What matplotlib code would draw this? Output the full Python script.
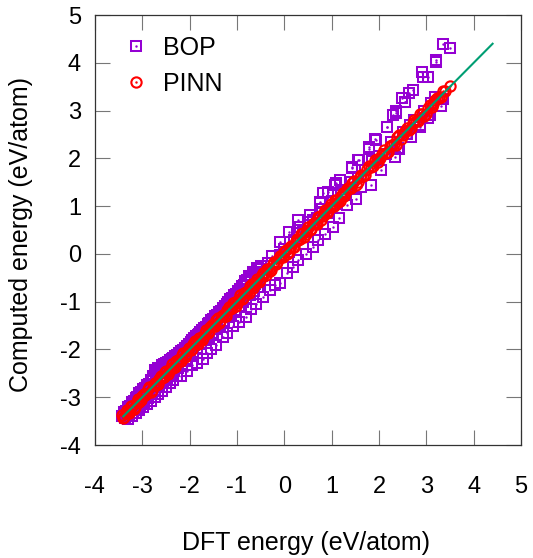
import matplotlib
matplotlib.use("Agg")
import matplotlib.pyplot as plt
from matplotlib.legend_handler import HandlerTuple

plt.rcParams['font.family'] = ['Liberation Sans', 'DejaVu Sans']
plt.rcParams['axes.unicode_minus'] = False

# BOP: dense band near the diagonal at low energies
bop_band_upper = [
    (-3.38, -3.30), (-3.30, -3.20), (-3.22, -3.10), (-3.14, -3.01), (-3.06, -2.92),
    (-2.98, -2.83), (-2.90, -2.75), (-2.82, -2.64), (-2.74, -2.44), (-2.66, -2.38),
    (-2.58, -2.33), (-2.50, -2.28), (-2.42, -2.22), (-2.34, -2.17), (-2.26, -2.11),
    (-2.18, -2.04), (-2.10, -1.96), (-2.02, -1.88), (-1.94, -1.80), (-1.86, -1.72),
    (-1.78, -1.63), (-1.70, -1.55), (-1.62, -1.47), (-1.54, -1.38), (-1.46, -1.30),
    (-1.38, -1.21), (-1.30, -1.13), (-1.22, -1.04), (-1.14, -0.95), (-1.06, -0.86),
    (-0.98, -0.77), (-0.90, -0.67), (-0.82, -0.57), (-0.74, -0.47), (-0.66, -0.37),
    (-0.58, -0.30), (-0.50, -0.26),
    (-3.34, -3.28), (-3.26, -3.18), (-3.18, -3.08), (-3.10, -2.99), (-3.02, -2.90),
    (-2.94, -2.81), (-2.86, -2.72), (-2.78, -2.56), (-2.70, -2.46), (-2.62, -2.38),
    (-2.54, -2.31), (-2.46, -2.26), (-2.38, -2.20), (-2.30, -2.14), (-2.22, -2.08),
    (-2.14, -2.01), (-2.06, -1.93), (-1.98, -1.85), (-1.90, -1.77), (-1.82, -1.69),
    (-1.74, -1.60), (-1.66, -1.52), (-1.58, -1.44), (-1.50, -1.36), (-1.42, -1.27),
    (-1.34, -1.19), (-1.26, -1.10), (-1.18, -1.01), (-1.10, -0.92), (-1.02, -0.83),
    (-0.94, -0.74), (-0.86, -0.65), (-0.78, -0.55), (-0.70, -0.46), (-0.62, -0.38),
    (-0.54, -0.32),
]
bop_band_mid = [
    (-3.42, -3.40), (-3.34, -3.35), (-3.26, -3.24), (-3.18, -3.19), (-3.10, -3.08),
    (-3.02, -3.03), (-2.94, -2.92), (-2.86, -2.87), (-2.78, -2.75), (-2.70, -2.71),
    (-2.62, -2.59), (-2.54, -2.55), (-2.46, -2.43), (-2.38, -2.39), (-2.30, -2.27),
    (-2.22, -2.23), (-2.14, -2.11), (-2.06, -2.07), (-1.98, -1.95), (-1.90, -1.91),
    (-1.82, -1.79), (-1.74, -1.75), (-1.66, -1.63), (-1.58, -1.59), (-1.50, -1.47),
    (-1.42, -1.43), (-1.34, -1.31), (-1.26, -1.27), (-1.18, -1.15), (-1.10, -1.11),
    (-1.02, -0.99), (-0.94, -0.95), (-0.86, -0.83), (-0.78, -0.79), (-0.70, -0.67),
    (-0.62, -0.63), (-0.54, -0.51), (-0.46, -0.47),
    (-3.00, -2.88), (-2.90, -2.78), (-2.80, -2.66), (-2.70, -2.55), (-2.60, -2.46),
    (-2.50, -2.37), (-2.40, -2.27), (-2.30, -2.18), (-2.20, -2.08), (-2.10, -1.98),
    (-2.00, -1.88), (-1.90, -1.78), (-1.80, -1.68), (-1.70, -1.58), (-1.60, -1.48),
    (-1.50, -1.38), (-1.40, -1.28), (-1.30, -1.18), (-1.20, -1.07), (-1.10, -0.97),
    (-1.00, -0.86), (-0.90, -0.76), (-0.80, -0.65), (-0.70, -0.55), (-0.60, -0.44),
]
bop_band_lower = [
    (-3.36, -3.44), (-3.28, -3.38), (-3.20, -3.32), (-3.12, -3.25), (-3.04, -3.17),
    (-2.96, -3.10), (-2.88, -3.02), (-2.80, -2.94), (-2.72, -2.86), (-2.64, -2.78),
    (-2.56, -2.70), (-2.48, -2.62), (-2.40, -2.54), (-2.32, -2.46), (-2.24, -2.38),
    (-2.16, -2.30), (-2.08, -2.21), (-2.00, -2.13), (-1.92, -2.05), (-1.84, -1.97),
    (-1.76, -1.89), (-1.68, -1.81), (-1.60, -1.73), (-1.52, -1.65), (-1.44, -1.57),
    (-1.36, -1.49), (-1.28, -1.41), (-1.20, -1.33), (-1.12, -1.25), (-1.04, -1.17),
    (-0.96, -1.09), (-0.88, -1.01), (-0.80, -0.93), (-0.72, -0.85), (-0.64, -0.77),
    (-0.56, -0.69),
    (-3.30, -3.45), (-3.22, -3.39), (-3.14, -3.33), (-3.06, -3.27), (-2.98, -3.21),
    (-2.90, -3.14), (-2.82, -3.07), (-2.74, -3.00), (-2.66, -2.93), (-2.58, -2.86),
    (-2.50, -2.79), (-2.42, -2.71), (-2.34, -2.63), (-2.26, -2.55),
]
# BOP: scattered points below the diagonal
bop_below = [
    (-2.18, -2.55), (-2.05, -2.45), (-1.95, -2.33), (-1.85, -2.28), (-1.72, -2.20),
    (-1.64, -2.07), (-1.55, -2.00), (-1.45, -1.90), (-1.30, -1.73), (-1.20, -1.65),
    (-1.08, -1.50), (-0.95, -1.42), (-0.80, -1.31), (-0.70, -1.15), (-0.60, -1.05),
    (-0.45, -0.90), (-0.30, -0.75), (-0.20, -0.65), (-0.09, -0.61), (0.05, -0.40),
    (0.18, -0.27), (0.30, -0.12), (0.45, 0.00), (0.61, 0.15), (0.72, 0.30),
    (0.85, 0.42), (1.03, 0.57), (1.15, 0.75), (1.33, 1.02), (1.51, 1.16),
    (1.62, 1.40), (1.83, 1.44), (2.04, 1.76), (2.33, 2.03), (2.43, 2.20),
    (2.67, 2.45), (2.86, 2.69), (3.07, 2.90),
]
# BOP: points close to the diagonal at higher energies
bop_near = [
    (-0.35, -0.20), (-0.25, -0.05), (-0.10, -0.02), (0.00, 0.10), (0.10, 0.05),
    (0.20, 0.30), (0.26, 0.43), (0.33, 0.57), (0.40, 0.45), (0.51, 0.67),
    (0.60, 0.70), (0.70, 0.75), (0.80, 0.95), (0.90, 0.85), (1.00, 1.10),
    (1.10, 1.05), (1.20, 1.30), (1.30, 1.25), (1.40, 1.50), (1.55, 1.60),
    (1.70, 1.75), (1.85, 1.95), (2.00, 2.05), (2.15, 2.10), (2.25, 2.35),
    (2.41, 2.21), (2.50, 2.55), (2.60, 2.50), (2.66, 2.70), (2.75, 2.80),
    (2.87, 2.66), (2.95, 3.00), (3.04, 2.84), (3.10, 3.15), (3.18, 3.29),
    (3.30, 3.10), (3.36, 3.24),
]
# BOP: points well above the diagonal
bop_above = [
    (-0.09, 0.26), (0.10, 0.45), (0.30, 0.70), (0.54, 0.81), (0.75, 1.07),
    (0.76, 1.09), (0.82, 1.27), (0.93, 1.30), (1.08, 1.44), (1.10, 1.48),
    (1.18, 1.54), (1.42, 1.83), (1.44, 1.79), (1.56, 1.97), (1.58, 1.96),
    (1.78, 2.24), (1.80, 2.20), (1.92, 2.40), (1.94, 2.39), (2.16, 2.66),
    (2.17, 2.66), (2.29, 2.90), (2.35, 3.00), (2.37, 2.94), (2.48, 3.26),
    (2.55, 3.19), (2.56, 3.19), (2.64, 3.36), (2.71, 3.44), (2.91, 3.80),
    (2.92, 3.70), (3.03, 3.71), (3.20, 4.05), (3.21, 4.02), (3.36, 4.40),
    (3.50, 4.32),
]

pinn_x = [
    -3.42, -3.38, -3.33, -3.27, -3.21, -3.15, -3.09, -3.03, -2.97, -2.91,
    -2.85, -2.79, -2.73, -2.67, -2.61, -2.55, -2.49, -2.43, -2.37, -2.31,
    -2.25, -2.19, -2.13, -2.07, -2.01, -1.95, -1.89, -1.83, -1.77, -1.71,
    -1.65, -1.59, -1.53, -1.47, -1.41, -1.35, -1.29, -1.23, -1.17, -1.11,
    -1.05, -0.99, -0.93, -0.87, -0.81, -0.75, -0.69, -0.63, -0.57, -0.51,
    -0.45, -0.39, -0.33, -0.27, -0.21, -0.15, -0.09, -0.03, 0.03, 0.09,
    0.15, 0.21, 0.27, 0.33, 0.39, 0.45, 0.51, 0.57, 0.63, 0.69,
    0.75, 0.81, 0.87, 0.93, 0.99, 1.05, 1.11, 1.17, 1.23, 1.29,
    1.35, 1.41, 1.47, 1.55, 1.63, 1.71, 1.79, 1.87, 1.95, 2.03,
    2.11, 2.19, 2.27, 2.35, 2.43, 2.51, 2.59, 2.67, 2.75, 2.83,
    2.91, 2.99, 3.07, 3.15, 3.23, 3.31, 3.40, 3.50,
]
pinn_y = [
    -3.38, -3.41, -3.27, -3.32, -3.19, -3.21, -3.04, -3.05, -2.93, -2.94,
    -2.79, -2.84, -2.71, -2.73, -2.56, -2.57, -2.45, -2.46, -2.31, -2.36,
    -2.23, -2.25, -2.08, -2.09, -1.97, -1.98, -1.83, -1.88, -1.75, -1.77,
    -1.60, -1.61, -1.49, -1.50, -1.35, -1.40, -1.27, -1.29, -1.12, -1.13,
    -1.01, -1.02, -0.87, -0.92, -0.79, -0.81, -0.64, -0.65, -0.53, -0.54,
    -0.39, -0.44, -0.31, -0.33, -0.16, -0.17, -0.05, -0.06, 0.09, 0.04,
    0.17, 0.15, 0.32, 0.31, 0.43, 0.42, 0.57, 0.52, 0.65, 0.63,
    0.80, 0.79, 0.91, 0.90, 1.05, 1.00, 1.13, 1.11, 1.28, 1.27,
    1.39, 1.38, 1.53, 1.50, 1.65, 1.65, 1.84, 1.85, 1.99, 2.00,
    2.17, 2.14, 2.29, 2.29, 2.48, 2.49, 2.63, 2.64, 2.81, 2.78,
    2.93, 2.93, 3.12, 3.13, 3.27, 3.28, 3.41, 3.51,
]
# second batch of PINN structures (x, y)
pinn_extra = [
    (-3.40, -3.44), (-3.35, -3.32), (-3.30, -3.31), (-3.24, -3.19), (-3.18, -3.24),
    (-3.12, -3.10), (-3.06, -3.10), (-3.00, -2.97), (-2.94, -2.95), (-2.88, -2.83),
    (-2.82, -2.88), (-2.76, -2.74), (-2.70, -2.74), (-2.64, -2.61), (-2.58, -2.59),
    (-2.52, -2.47), (-2.46, -2.52), (-2.40, -2.38), (-2.34, -2.38), (-2.28, -2.25),
    (-2.22, -2.23), (-2.16, -2.11), (-2.10, -2.16), (-2.04, -2.02), (-1.98, -2.02),
    (-1.92, -1.89), (-1.86, -1.87), (-1.80, -1.75), (-1.74, -1.80), (-1.68, -1.66),
    (-1.62, -1.66), (-1.56, -1.53), (-1.50, -1.51), (-1.44, -1.39), (-1.38, -1.44),
    (-1.32, -1.30), (-1.26, -1.30), (-1.20, -1.17), (-1.14, -1.15), (-1.08, -1.03),
    (-1.02, -1.08), (-0.96, -0.94), (-0.90, -0.94), (-0.84, -0.81), (-0.78, -0.79),
    (-0.72, -0.67), (-0.66, -0.72), (-0.60, -0.58), (-0.54, -0.58), (-0.48, -0.45),
    (-0.42, -0.43), (-0.36, -0.31), (-0.30, -0.36), (-0.24, -0.22), (-0.18, -0.22),
    (-0.12, -0.09), (-0.06, -0.07), (0.00, 0.05), (0.06, 0.00), (0.12, 0.14),
    (0.18, 0.14), (0.24, 0.27), (0.30, 0.29), (0.36, 0.41), (0.42, 0.36),
    (0.48, 0.50), (0.54, 0.50), (0.60, 0.63), (0.66, 0.65), (0.72, 0.77),
    (0.78, 0.72), (0.84, 0.86), (0.90, 0.86), (0.96, 0.99), (1.02, 1.01),
    (1.08, 1.13), (1.14, 1.08), (1.20, 1.22), (1.26, 1.22), (1.32, 1.35),
    (1.38, 1.37), (1.44, 1.49), (1.51, 1.45), (1.59, 1.61), (1.67, 1.63),
    (1.75, 1.78), (1.83, 1.82), (1.91, 1.96), (1.99, 1.93), (2.07, 2.09),
    (2.15, 2.11), (2.23, 2.26), (2.31, 2.30), (2.39, 2.44), (2.47, 2.41),
    (2.55, 2.57), (2.63, 2.59), (2.71, 2.74), (2.79, 2.78), (2.87, 2.92),
    (2.95, 2.89), (3.03, 3.05), (3.11, 3.07), (3.19, 3.22), (3.27, 3.26),
    (3.35, 3.40),
]

ref_x = [-3.4, 4.4]  # y = x guide

ticks = [-4, -3, -2, -1, 0, 1, 2, 3, 4, 5]

purple = '#9400D3'
red = '#FF0000'
green = '#009E73'

bop = bop_band_upper + bop_band_mid + bop_band_lower + bop_below + bop_near + bop_above
bop_x = [p[0] for p in bop]
bop_y = [p[1] for p in bop]
pinn_all_x = pinn_x + [p[0] for p in pinn_extra]
pinn_all_y = pinn_y + [p[1] for p in pinn_extra]

fig = plt.figure(figsize=(5.33, 5.58), dpi=100)
ax = fig.add_axes([0.178, 0.2025, 0.7995, 0.7705])

sq, = ax.plot(bop_x, bop_y, linestyle='none', marker='s', ms=7.2,
              mfc='none', mec=purple, mew=1.45)
sqd, = ax.plot(bop_x, bop_y, linestyle='none', marker='.', ms=1.5,
               color=purple)
ci, = ax.plot(pinn_all_x, pinn_all_y, linestyle='none', marker='o', ms=7.4,
              mfc='none', mec=red, mew=1.5)
cid, = ax.plot(pinn_all_x, pinn_all_y, linestyle='none', marker='.', ms=1.5,
               color=red)
ax.plot(ref_x, ref_x, color=green, lw=1.5)

ax.set_xlim(-4, 5)
ax.set_ylim(-4, 5)
ax.set_xticks(ticks)
ax.set_yticks(ticks)
ax.tick_params(direction='in', length=10.8, width=0.8, color='#777777',
               top=True, right=True, labelsize=17)
ax.tick_params(axis='x', pad=22)
ax.tick_params(axis='y', pad=10)
for s in ax.spines.values():
    s.set_color('#333333')
    s.set_linewidth(0.9)

ax.set_xlabel('DFT energy (eV/atom)', fontsize=18)
ax.set_ylabel('Computed energy (eV/atom)', fontsize=18)
ax.xaxis.set_label_coords(0.495, -0.2)
ax.yaxis.set_label_coords(-0.145, 0.49)

ax.legend([(sq, sqd), (ci, cid)], ['BOP', 'PINN'],
          handler_map={tuple: HandlerTuple(ndivide=1)},
          loc='upper left', bbox_to_anchor=(0.068, 0.952), frameon=False,
          fontsize=18, handlelength=1.0, handletextpad=0.58,
          labelspacing=0.48, borderpad=0, borderaxespad=0)

fig.savefig('out.png', dpi=100)
